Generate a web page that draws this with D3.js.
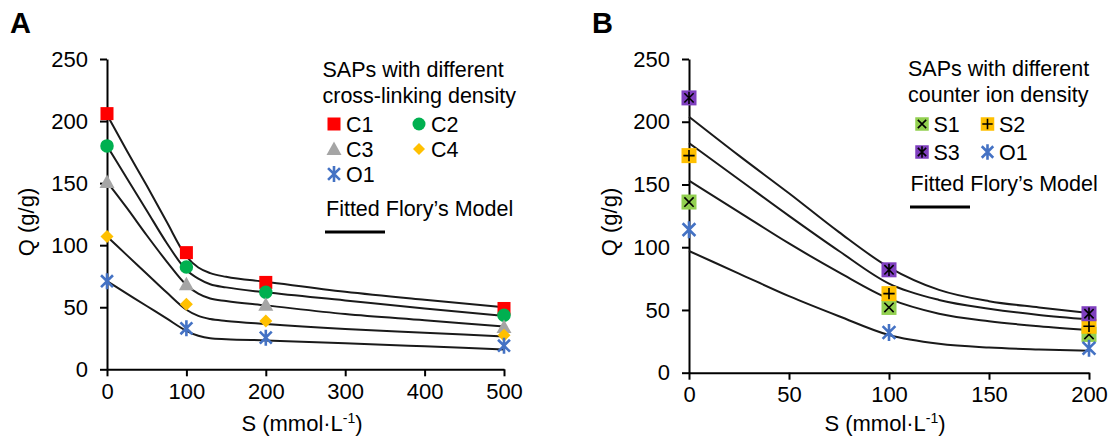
<!DOCTYPE html>
<html>
<head>
<meta charset="utf-8">
<script src="https://cdn.jsdelivr.net/npm/d3@7"></script>
<style>
  html, body { margin: 0; padding: 0; background: #fff; }
  svg { display: block; font-family: "Liberation Sans", Arial, sans-serif; }
</style>
</head>
<body>
<svg id="chart" width="1115" height="440"></svg>
<script>
// ---------- Panel A: cross-linking density series ----------
const xTicksA = [0, 100, 200, 300, 400, 500];
const yTicks = [0, 50, 100, 150, 200, 250];
const salinityA = [0, 100, 200, 500];
const seriesNamesA = ["C1", "C2", "C3", "C4", "O1"];
const qC1 = [206, 94, 70, 49];
const qC2 = [180, 82.5, 62, 43.5];
const qC3 = [151, 68.5, 52, 34];
const qC4 = [107, 52.5, 39, 27.5];
const qO1a = [71, 33, 25.5, 19];

// fitted Flory model curves, panel A (S, Q)
const fitC1 = [[0,205],[25,176],[50,148],[75,119],[100,91],[115,82],[130,77.5],[150,74.5],[200,70.5],[300,62.5],[400,56],[500,50]];
const fitC2 = [[0,180],[25,154],[50,128],[75,102],[100,80],[115,73],[130,68.5],[150,66],[200,62],[300,55.5],[400,49],[500,43]];
const fitC3 = [[0,151],[25,130],[50,108],[75,87],[100,68],[115,61],[130,57],[150,55],[200,51.5],[300,44.5],[400,39.5],[500,34.5]];
const fitC4 = [[0,107],[25,92],[50,77],[75,62],[100,48],[115,43],[130,40.5],[150,39],[200,36.5],[300,32.5],[400,29.5],[500,26.5]];
const fitO1a = [[0,71],[25,61],[50,51],[75,41],[100,31],[115,27],[130,25],[150,24.3],[200,23.3],[300,21],[400,18.5],[500,16]];

// ---------- Panel B: counter ion density series ----------
const xTicksB = [0, 50, 100, 150, 200];
const salinityB = [0, 100, 200];
const seriesNamesB = ["S1", "S2", "S3", "O1"];
const qS1 = [136, 52, 30.5];
const qS2 = [173, 63, 37];
const qS3 = [219, 82, 47];
const qO1b = [114, 32, 19.5];

const fitS3 = [[0,204],[25,173],[50,143],[75,112],[100,84],[125,66],[150,57],[175,52],[200,47.5]];
const fitS2 = [[0,183],[25,154],[50,125],[75,97],[100,71],[125,58],[150,51],[175,46],[200,42.5]];
const fitS1 = [[0,153],[25,128],[50,103],[75,80],[100,59],[125,47],[150,41],[175,37],[200,34]];
const fitO1b = [[0,97],[25,79],[50,61],[75,45],[100,30],[125,23],[150,20],[175,18.5],[200,17.5]];

const FONT = 21.5;
const TICK_FONT = 22;
const svg = d3.select("#chart");

// ---------- marker drawing ----------
function marker(g, type, color, s) {
  const h = s / 2;
  if (type === "square") {
    g.append("rect").attr("x", -h).attr("y", -h).attr("width", s).attr("height", s).attr("fill", color);
  } else if (type === "circle") {
    g.append("circle").attr("r", h).attr("fill", color);
  } else if (type === "triangle") {
    g.append("path").attr("d", `M0,${-h - 1}L${h + 1},${h - 0.5}L${-h - 1},${h - 0.5}Z`).attr("fill", color);
  } else if (type === "diamond") {
    g.append("path").attr("d", `M0,${-h}L${h},0L0,${h}L${-h},0Z`).attr("fill", color);
  } else if (type === "star") {
    const a = h * 0.85;
    g.append("path")
      .attr("d", `M${-a},${-a}L${a},${a}M${-a},${a}L${a},${-a}M0,${-h - 1}L0,${h + 1}`)
      .attr("stroke", color).attr("stroke-width", 2.6).attr("fill", "none");
  } else if (type.startsWith("box")) {
    g.append("rect").attr("x", -h).attr("y", -h).attr("width", s).attr("height", s).attr("fill", color);
    const a = h * 0.62;
    let d = "";
    if (type === "boxX") d = `M${-a},${-a}L${a},${a}M${-a},${a}L${a},${-a}`;
    if (type === "boxPlus") d = `M${-a - 1},0L${a + 1},0M0,${-a - 1}L0,${a + 1}`;
    if (type === "boxStar") d = `M${-a},${-a}L${a},${a}M${-a},${a}L${a},${-a}M0,${-a - 1.5}L0,${a + 1.5}`;
    g.append("path").attr("d", d).attr("stroke", "#000").attr("stroke-width", 1.6).attr("fill", "none");
  }
}

function panel(opts) {
  const { x, y, xTicks, xs, series, fits, title, titleX } = opts;
  const g = svg.append("g");

  // axes
  const ax = g.append("g").attr("transform", `translate(0,${y(0)})`)
    .call(d3.axisBottom(x).tickValues(xTicks).tickSize(7).tickPadding(7).tickSizeOuter(0));
  const ay = g.append("g").attr("transform", `translate(${x(0)},0)`)
    .call(d3.axisLeft(y).tickValues(yTicks).tickSize(7).tickPadding(12).tickSizeOuter(0));
  [ax, ay].forEach(a => {
    a.selectAll("path, line").attr("stroke", "#000").attr("stroke-width", 2);
    a.selectAll("text").attr("font-size", TICK_FONT).attr("fill", "#000")
      .attr("font-family", '"Liberation Sans", Arial, sans-serif');
  });

  // axis titles
  const xt = g.append("text").attr("x", titleX).attr("y", 431).attr("text-anchor", "middle")
    .attr("font-size", TICK_FONT).attr("fill", "#000");
  xt.append("tspan").text("S (mmol·L");
  xt.append("tspan").attr("dy", -8).attr("font-size", 14).text("-1");
  xt.append("tspan").attr("dy", 8).text(")");

  g.append("text").attr("transform", `translate(${opts.yTitleX},222) rotate(-90)`)
    .attr("text-anchor", "middle").attr("dominant-baseline", "middle")
    .attr("font-size", TICK_FONT).attr("fill", "#000").text("Q (g/g)");

  // panel letter
  g.append("text").attr("x", opts.letterX).attr("y", 33).attr("font-size", 29)
    .attr("font-weight", "bold").attr("fill", "#000").text(title);

  // fitted curves
  const line = d3.line().x(d => x(d[0])).y(d => y(d[1])).curve(d3.curveMonotoneX);
  fits.forEach(f => {
    g.append("path").attr("d", line(f)).attr("fill", "none")
      .attr("stroke", "#1a1a1a").attr("stroke-width", 2);
  });

  // data markers
  series.forEach(s => {
    s.values.forEach((v, i) => {
      const m = g.append("g").attr("transform", `translate(${x(xs[i])},${y(v)})`);
      marker(m, s.type, s.color, s.size);
    });
  });
  return g;
}

// ---------- Panel A ----------
const xA = d3.scaleLinear().domain([0, 500]).range([107, 504]);
const yA = d3.scaleLinear().domain([0, 250]).range([369.3, 59]);
const seriesA = [
  { name: seriesNamesA[0], values: qC1, type: "square", color: "#FF0000", size: 13 },
  { name: seriesNamesA[1], values: qC2, type: "circle", color: "#00B050", size: 13.5 },
  { name: seriesNamesA[2], values: qC3, type: "triangle", color: "#A5A5A5", size: 13 },
  { name: seriesNamesA[3], values: qC4, type: "diamond", color: "#FFC000", size: 13 },
  { name: seriesNamesA[4], values: qO1a, type: "star", color: "#4472C4", size: 14 }
];
panel({ x: xA, y: yA, xTicks: xTicksA, xs: salinityA, series: seriesA,
  fits: [fitC1, fitC2, fitC3, fitC4, fitO1a], title: "A", titleX: 302, yTitleX: 28, letterX: 10 });

// ---------- Panel B ----------
const xB = d3.scaleLinear().domain([0, 200]).range([689, 1089]);
const yB = d3.scaleLinear().domain([0, 250]).range([372.7, 59]);
const seriesB = [
  { name: seriesNamesB[0], values: qS1, type: "boxX", color: "#92D050", size: 15 },
  { name: seriesNamesB[1], values: qS2, type: "boxPlus", color: "#FFC000", size: 15 },
  { name: seriesNamesB[2], values: qS3, type: "boxStar", color: "#7F3FBF", size: 15 },
  { name: seriesNamesB[3], values: qO1b, type: "star", color: "#4472C4", size: 15 }
];
panel({ x: xB, y: yB, xTicks: xTicksB, xs: salinityB, series: seriesB,
  fits: [fitS3, fitS2, fitS1, fitO1b], title: "B", titleX: 885, yTitleX: 611, letterX: 592 });

// ---------- legends ----------
function legend(cfg) {
  const g = svg.append("g");
  cfg.titleLines.forEach((t, i) => {
    g.append("text").attr("x", cfg.titleX).attr("y", cfg.titleY + i * 25.5)
      .attr("font-size", FONT).attr("fill", "#000").text(t);
  });
  cfg.items.forEach(it => {
    const m = g.append("g").attr("transform", `translate(${it.mx},${it.my})`);
    marker(m, it.s.type, it.s.color, it.size);
    g.append("text").attr("x", it.mx + cfg.textOffset).attr("y", it.my + 7.5)
      .attr("font-size", FONT).attr("fill", "#000").text(it.s.name);
  });
  g.append("text").attr("x", cfg.fitX).attr("y", cfg.fitY)
    .attr("font-size", FONT).attr("fill", "#000").text("Fitted Flory’s Model");
  g.append("line").attr("x1", cfg.lineX).attr("x2", cfg.lineX + 60)
    .attr("y1", cfg.lineY).attr("y2", cfg.lineY)
    .attr("stroke", "#000").attr("stroke-width", 3);
}

legend({
  titleLines: ["SAPs with different", "cross-linking density"], titleX: 322.5, titleY: 77,
  textOffset: 12,
  items: [
    { s: seriesA[0], mx: 334, my: 124, size: 13 },
    { s: seriesA[1], mx: 419, my: 124, size: 13 },
    { s: seriesA[2], mx: 334, my: 149, size: 13 },
    { s: seriesA[3], mx: 419, my: 149, size: 12 },
    { s: seriesA[4], mx: 334, my: 174, size: 14 }
  ],
  fitX: 326, fitY: 216, lineX: 325, lineY: 232
});

legend({
  titleLines: ["SAPs with different", "counter ion density"], titleX: 908, titleY: 76,
  textOffset: 11.5,
  items: [
    { s: seriesB[0], mx: 922, my: 124, size: 13.5 },
    { s: seriesB[1], mx: 987.5, my: 124, size: 13.5 },
    { s: seriesB[2], mx: 922, my: 152, size: 13.5 },
    { s: seriesB[3], mx: 987.5, my: 152, size: 13.5 }
  ],
  fitX: 910.5, fitY: 191, lineX: 910, lineY: 207
});
</script>
</body>
</html>
